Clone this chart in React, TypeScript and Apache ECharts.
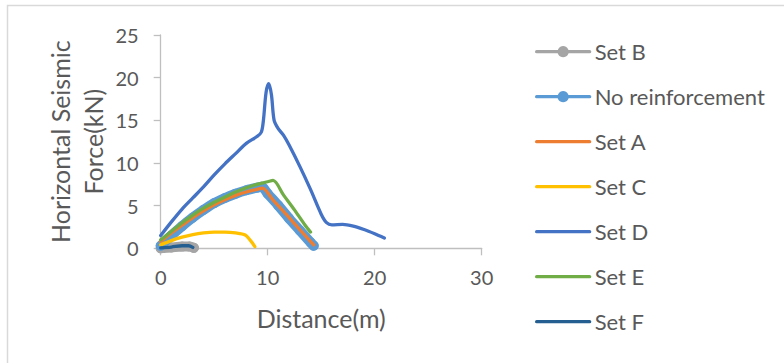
import React, { useEffect, useRef } from "react";
import * as echarts from "echarts";

// Horizontal seismic force (kN) against distance (m) for each reinforcement set
const setB: [number, number][] = [[0, 0.0], [1, 0.1], [2, 0.2], [2.7, 0.2], [3.1, 0.05]];
const noReinforcement: [number, number][] = [
  [0, 0.3], [1, 1.5], [2, 2.6], [3, 3.6], [4, 4.5], [5, 5.3], [6, 5.9], [7, 6.4],
  [8, 6.8], [9, 7.1], [9.45, 7.2], [10, 6.4], [11, 5.0], [12, 3.5], [13, 2.1],
  [14, 0.7], [14.3, 0.3],
];
const setA: [number, number][] = [
  [0, 0.8], [1, 1.8], [2, 2.7], [3, 3.6], [4, 4.4], [5, 5.1], [6, 5.7], [7, 6.2],
  [8, 6.6], [9, 6.9], [9.5, 7.05], [10.5, 5.65], [11.5, 4.3], [12.5, 2.9],
  [13.5, 1.5], [14.3, 0.4],
];
const setC: [number, number][] = [
  [0, 0.4], [1, 0.9], [2, 1.3], [3, 1.6], [4, 1.8], [5, 1.9], [6, 1.9], [7, 1.8],
  [7.9, 1.55], [8.4, 0.9], [8.8, 0.2],
];
const setD: [number, number][] = [
  [0, 1.5], [1, 3.1], [2, 4.6], [3, 5.9], [4, 7.2], [5, 8.6], [6, 9.9], [7, 11.1],
  [8, 12.3], [9, 13.1], [9.4, 13.6], [9.6, 15.0], [9.85, 18.3], [10.1, 19.3],
  [10.35, 18.0], [10.6, 15.0], [11.0, 14.0], [11.5, 13.2], [12, 12.1], [13, 9.6],
  [14, 6.9], [15, 4.0], [15.5, 3.0], [16, 2.75], [17, 2.8], [18, 2.6], [19, 2.2],
  [20, 1.7], [20.9, 1.2],
];
const setE: [number, number][] = [
  [0, 1.0], [1, 2.0], [2, 3.0], [3, 3.9], [4, 4.7], [5, 5.4], [6, 6.0], [7, 6.6],
  [8, 7.1], [9, 7.5], [10, 7.8], [10.5, 7.95], [11.5, 6.2], [12.5, 4.5],
  [13.5, 2.7], [14, 1.9],
];
const setF: [number, number][] = [[0, 0.05], [1, 0.15], [2, 0.3], [2.6, 0.3], [3, 0.1]];

const xTicks = { min: 0, max: 30, interval: 10 };
const yTicks = { min: 0, max: 25, interval: 5 };

const FONT = "Lato, 'Open Sans', sans-serif";
const TEXT = "#595959";
const AXIS = "#BFBFBF";

type SeriesDef = {
  name: string;
  data: [number, number][];
  color: string;
  width: number;
  marker: boolean;
};

const seriesDefs: SeriesDef[] = [
  { name: "Set B", data: setB, color: "#A5A5A5", width: 10, marker: true },
  { name: "No reinforcement", data: noReinforcement, color: "#5B9BD5", width: 10, marker: true },
  { name: "Set A", data: setA, color: "#ED7D31", width: 3.3, marker: false },
  { name: "Set C", data: setC, color: "#FFC000", width: 3.3, marker: false },
  { name: "Set D", data: setD, color: "#4472C4", width: 3.3, marker: false },
  { name: "Set E", data: setE, color: "#70AD47", width: 3.3, marker: false },
  { name: "Set F", data: setF, color: "#255E91", width: 3.3, marker: false },
];

export default function App() {
  const ref = useRef<HTMLDivElement>(null);

  useEffect(() => {
    if (!ref.current) return;
    const chart = echarts.init(ref.current, undefined, { renderer: "svg" });
    chart.setOption({
      animation: false,
      backgroundColor: "#ffffff",
      textStyle: { fontFamily: FONT },
      graphic: [
        {
          type: "rect",
          shape: { x: 7.5, y: 5.5, width: 820, height: 420 },
          style: { fill: "none", stroke: "#D9D9D9", lineWidth: 1.5 },
          silent: true,
        },
      ],
      grid: { left: 160.7, right: 302.3, top: 35, bottom: 114.7, containLabel: false },
      xAxis: {
        type: "value",
        ...xTicks,
        name: "Distance(m)",
        nameLocation: "middle",
        nameGap: 57,
        nameTextStyle: { color: TEXT, fontSize: 25, fontFamily: FONT, lineHeight: 25 },
        axisLine: { show: true, lineStyle: { color: AXIS, width: 1.3 } },
        axisTick: { show: true, length: 7, lineStyle: { color: AXIS, width: 1.3 } },
        axisLabel: { color: TEXT, fontSize: 20, fontFamily: FONT, margin: 19 },
        splitLine: { show: false },
      },
      yAxis: {
        type: "value",
        ...yTicks,
        name: "Horizontal Seismic\nForce(kN)",
        nameLocation: "middle",
        nameRotate: 90,
        nameGap: 51,
        nameTextStyle: { color: TEXT, fontSize: 25, fontFamily: FONT, lineHeight: 33 },
        axisLine: { show: true, lineStyle: { color: AXIS, width: 1.3 } },
        axisTick: { show: true, length: 7, lineStyle: { color: AXIS, width: 1.3 } },
        axisLabel: { color: TEXT, fontSize: 20, fontFamily: FONT, margin: 22 },
        splitLine: { show: false },
      },
      legend: {
        orient: "vertical",
        left: 535,
        top: 40.7,
        padding: 0,
        itemWidth: 53,
        itemHeight: 14,
        itemGap: 23,
        textStyle: { color: TEXT, fontSize: 22, fontFamily: FONT },
        data: seriesDefs.map((s) => ({
          name: s.name,
          lineStyle: { width: 3.3, color: s.color },
          itemStyle: { color: s.color, opacity: s.marker ? 1 : 0 },
        })),
      },
      series: seriesDefs.map((s, i) => ({
        name: s.name,
        type: "line",
        z: 2 + i,
        data: s.data,
        smooth: 0.3,
        symbol: s.marker ? "circle" : "none",
        symbolSize: 10,
        showSymbol: s.marker,
        lineStyle: { color: s.color, width: s.width, cap: "round", join: "round" },
        itemStyle: { color: s.color },
        emphasis: { disabled: true },
      })),
    });
    return () => chart.dispose();
  }, []);

  return (
    <div
      ref={ref}
      style={{ position: "fixed", left: 0, top: 0, width: 784, height: 363 }}
    />
  );
}
